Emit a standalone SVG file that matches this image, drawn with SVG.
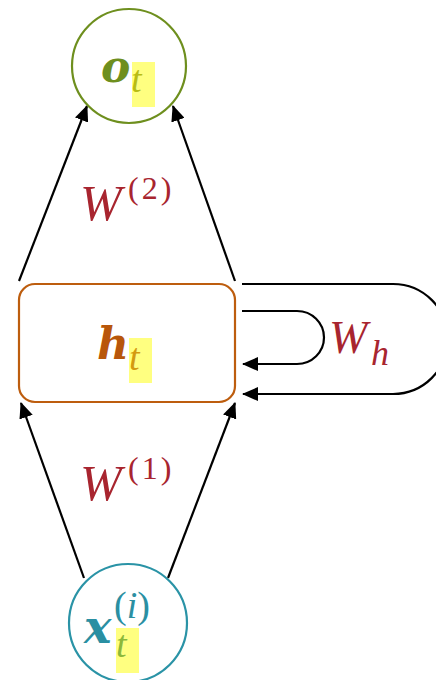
<svg xmlns="http://www.w3.org/2000/svg" width="436" height="680" viewBox="0 0 436 680">
<defs>
<style>
.edge{fill:none;stroke:#000;stroke-width:2.2}
.lbl{font-family:"Liberation Serif","DejaVu Serif",serif;font-style:italic;fill:#a8252f}
.sup{font-family:"Liberation Serif","DejaVu Serif",serif;fill:#a8252f;letter-spacing:3px}
.hl{fill:#ffff80}
.main{font-family:"DejaVu Serif","Liberation Serif",serif;font-style:italic;font-weight:bold}
.sub{font-family:"Liberation Serif","DejaVu Serif",serif;font-style:italic}
</style>
<marker id="ah" markerWidth="16" markerHeight="14" refX="15" refY="7" orient="auto" markerUnits="userSpaceOnUse">
<path d="M0,0 L16,7 L0,14 Z" fill="#000"/>
</marker>
</defs>
<rect width="436" height="680" fill="#fff"/>
<g id="connectors">
<line class="edge" x1="19" y1="281" x2="87" y2="106" marker-end="url(#ah)"/>
<line class="edge" x1="235" y1="281" x2="173" y2="106" marker-end="url(#ah)"/>
<line class="edge" x1="84" y1="578" x2="21" y2="403" marker-end="url(#ah)"/>
<line class="edge" x1="168" y1="578" x2="235" y2="403" marker-end="url(#ah)"/>
<path class="edge" d="M242,311 H297 A27,26.5 0 0 1 297,364 H243" marker-end="url(#ah)"/>
<path class="edge" d="M242,284 H393 A55,55 0 0 1 393,394 H243" marker-end="url(#ah)"/>
<text class="lbl" x="80" y="220" font-size="50">W</text>
<text class="sup" x="128" y="199" font-size="32">(2)</text>
<text class="lbl" x="80" y="500" font-size="50">W</text>
<text class="sup" x="128" y="479" font-size="32">(1)</text>
<text class="lbl" x="329" y="353" font-size="46">W</text>
<text class="lbl" x="371" y="365" font-size="36">h</text>
</g>
<g id="node-o">
<circle cx="129" cy="66" r="57" fill="none" stroke="#6e8f1e" stroke-width="2.2"/>
<rect class="hl" x="132" y="62" width="23" height="45"/>
<text class="main" x="101" y="82" font-size="44" fill="#6e8f1e">o</text>
<text class="sub" x="131" y="92" font-size="38" fill="#b8bc14">t</text>
</g>
<g id="node-h">
<rect x="19" y="284" width="216" height="118" rx="16" fill="none" stroke="#bd5d0e" stroke-width="2.2"/>
<rect class="hl" x="129" y="338" width="23" height="45"/>
<text class="main" x="97" y="359" font-size="44" fill="#b8560a">h</text>
<text class="sub" x="129" y="370" font-size="38" fill="#d49a10">t</text>
</g>
<g id="node-x">
<circle cx="128" cy="623" r="59" fill="none" stroke="#2a93a6" stroke-width="2.2"/>
<rect class="hl" x="116" y="628" width="23" height="45"/>
<text class="main" x="84" y="643" font-size="46" fill="#2a8fa2">x</text>
<text class="sub" x="116" y="657" font-size="38" fill="#8cb83a">t</text>
<text x="114" y="618" font-size="38" font-family="Liberation Serif, DejaVu Serif, serif" fill="#2a8fa2">(<tspan font-style="italic">i</tspan>)</text>
</g>
</svg>
